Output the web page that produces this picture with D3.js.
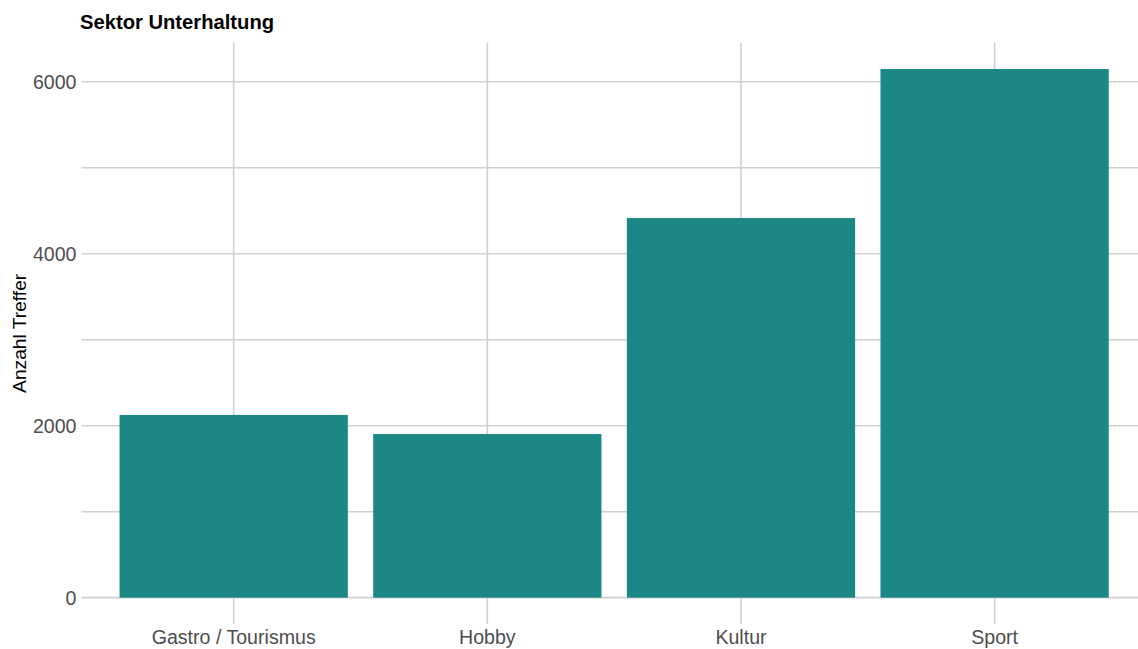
<!DOCTYPE html>
<html><head><meta charset="utf-8">
<script src="https://cdn.jsdelivr.net/npm/d3@7"></script>
<style>body{margin:0;background:#fff}svg{display:block}</style>
</head><body>
<svg id="c" width="1138" height="649"></svg>
<script>
const categories = ["Gastro / Tourismus", "Hobby", "Kultur", "Sport"];
const values = [2125, 1903, 4415, 6148];
const yTicks = [0, 2000, 4000, 6000];
const yMinor = [1000, 3000, 5000];
const titleText = "Sektor Unterhaltung";
const yTitle = "Anzahl Treffer";

const W = 1138, H = 649;
const font = "'Liberation Sans', Arial, sans-serif";
const svg = d3.select("#c");
const vmax = d3.max(values);
const y = d3.scaleLinear().domain([-0.05 * vmax, 1.05 * vmax]).range([624.1, 42.6]);
const x = d3.scaleBand().domain(categories).range([81.5, 1146.8]).paddingInner(0.1).paddingOuter(0.15);
const pTop = y.range()[1], pBot = y.range()[0], pLeft = 81.5;
const grid = "#d0d0d0";

const g = svg.append("g");
// minor + major horizontal gridlines
g.selectAll("line.hmin").data(yMinor).join("line")
  .attr("x1", pLeft).attr("x2", W).attr("y1", d => y(d)).attr("y2", d => y(d))
  .attr("stroke", grid).attr("stroke-width", 1.4);
g.selectAll("line.hmaj").data(yTicks).join("line")
  .attr("x1", pLeft).attr("x2", W).attr("y1", d => y(d)).attr("y2", d => y(d))
  .attr("stroke", grid).attr("stroke-width", 1.6);
// vertical gridlines
g.selectAll("line.v").data(categories).join("line")
  .attr("x1", d => x(d) + x.bandwidth() / 2).attr("x2", d => x(d) + x.bandwidth() / 2)
  .attr("y1", pTop).attr("y2", pBot)
  .attr("stroke", grid).attr("stroke-width", 1.6);

// bars
svg.selectAll("rect.bar").data(categories).join("rect")
  .attr("x", d => x(d)).attr("width", x.bandwidth())
  .attr("y", (d, i) => y(values[i])).attr("height", (d, i) => y(0) - y(values[i]))
  .attr("fill", "#1b8886");

// y tick labels
svg.selectAll("text.yt").data(yTicks).join("text")
  .attr("x", 76.5).attr("y", d => y(d)).attr("dy", "0.36em")
  .attr("text-anchor", "end").attr("fill", "#4d4d4d")
  .style("font-family", font).style("font-size", "19.6px").text(d => d);

// x tick labels
svg.selectAll("text.xt").data(categories).join("text")
  .attr("x", d => x(d) + x.bandwidth() / 2).attr("y", 644)
  .attr("text-anchor", "middle").attr("fill", "#4d4d4d")
  .style("font-family", font).style("font-size", "19.6px").text(d => d);

// title
svg.append("text").attr("x", 80).attr("y", 29)
  .style("font-family", font).style("font-size", "20.2px").style("font-weight", "bold")
  .attr("fill", "#000").text(titleText);

// y axis title
svg.append("text").attr("transform", `translate(26,${(pTop + pBot) / 2}) rotate(-90)`)
  .attr("text-anchor", "middle").attr("fill", "#000")
  .style("font-family", font).style("font-size", "19.2px").text(yTitle);
</script>
</body></html>
